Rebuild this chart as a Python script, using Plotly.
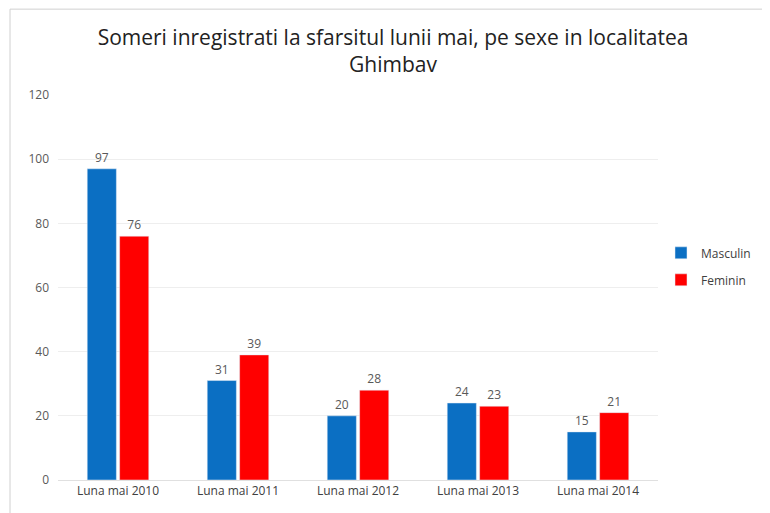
import plotly.graph_objects as go

categories = ["Luna mai 2010", "Luna mai 2011", "Luna mai 2012", "Luna mai 2013", "Luna mai 2014"]
masculin = [97, 31, 20, 24, 15]
feminin = [76, 39, 28, 23, 21]
y_ticks = [0, 20, 40, 60, 80, 100, 120]

font_family = "Open Sans, Noto Sans, sans-serif"
fig = go.Figure()
fig.add_trace(go.Bar(name="Masculin", x=categories, y=masculin, marker_color="#0B6FC3",
                     legendgroup="m",
                     text=masculin, textposition="outside",
                     textfont=dict(size=12, color="#595959")))
fig.add_trace(go.Bar(name="Feminin", x=categories, y=feminin, marker_color="#FF0000",
                     legendgroup="f",
                     text=feminin, textposition="outside",
                     textfont=dict(size=12, color="#595959")))

fig.update_layout(
    width=770, height=513,
    paper_bgcolor="white", plot_bgcolor="white",
    font=dict(family=font_family, color="#595959", size=12),
    title=dict(text="Someri inregistrati la sfarsitul lunii mai, pe sexe in localitatea<br>Ghimbav",
               x=0.5, xanchor="center", y=0.928, yanchor="top",
               font=dict(size=21, color="#222222", family=font_family)),
    margin=dict(l=50, r=120, t=87, b=41, autoexpand=False),
    barmode="group", bargap=0.46, bargroupgap=0.1,
    legend=dict(x=1.005, y=0.555, xanchor="left", yanchor="middle",
                font=dict(size=12, color="#404040"), itemwidth=30, tracegroupgap=8),
    xaxis=dict(showgrid=False, showline=True, linecolor="#E0E0E0", ticks="",
               tickfont=dict(size=12, color="#404040")),
    yaxis=dict(range=[0, 120], tickvals=y_ticks, showgrid=True, gridcolor="#EEEEEE",
               zeroline=False, ticks="", ticklabelstandoff=8,
               tickfont=dict(size=12, color="#595959")),
    shapes=[dict(type="rect", xref="paper", yref="paper",
                 x0=-0.08, x1=1.3, y0=-0.3, y1=1.223,
                 line=dict(color="#D0D0D0", width=1))],
)
fig.write_html("out.html")
